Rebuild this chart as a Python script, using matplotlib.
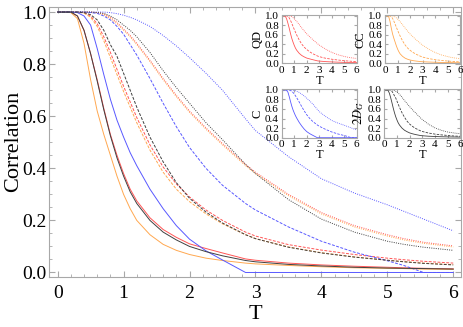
import matplotlib
matplotlib.use("Agg")
import matplotlib.pyplot as plt

plt.rcParams['font.family'] = ['Liberation Serif', 'DejaVu Serif']
plt.rcParams['mathtext.fontset'] = 'stix'

# temperature grid shared by all curves
T = [0, 0.2, 0.3, 0.4, 0.5, 0.6, 0.7, 0.8, 0.9, 1.0, 1.1, 1.2, 1.4, 1.6, 1.8,
     2.0, 2.25, 2.5, 2.85, 3.0, 3.5, 4.0, 4.5, 5.0, 5.25, 5.55, 6.0]

# QD (red)
qd_solid = [1, 1.0, 0.985, 0.93, 0.84, 0.74, 0.63, 0.53, 0.45, 0.38, 0.32, 0.275, 0.21, 0.165, 0.135,
            0.11, 0.092, 0.075, 0.052, 0.047, 0.036, 0.029, 0.024, 0.02, 0.018, 0.016, 0.014]
qd_dash = [1, 1, 1.0, 0.997, 0.985, 0.955, 0.905, 0.845, 0.78, 0.715, 0.655, 0.595, 0.49, 0.405, 0.34,
           0.29, 0.24, 0.2, 0.155, 0.14, 0.107, 0.086, 0.069, 0.055, 0.049, 0.043, 0.036]
qd_dot = [1, 1, 1, 1, 1.0, 0.998, 0.993, 0.98, 0.96, 0.935, 0.91, 0.88, 0.815, 0.745, 0.68,
          0.62, 0.555, 0.495, 0.415, 0.385, 0.3, 0.23, 0.18, 0.145, 0.13, 0.116, 0.102]

# CC (orange)
cc_solid = [1, 0.998, 0.975, 0.88, 0.74, 0.62, 0.53, 0.45, 0.37, 0.3, 0.245, 0.2, 0.145, 0.108, 0.085,
            0.069, 0.055, 0.046, 0.036, 0.033, 0.027, 0.022, 0.018, 0.016, 0.015, 0.013, 0.012]
cc_dash = [1, 1, 1.0, 0.996, 0.98, 0.945, 0.89, 0.825, 0.76, 0.695, 0.635, 0.575, 0.47, 0.385, 0.32,
           0.272, 0.225, 0.187, 0.145, 0.13, 0.098, 0.076, 0.06, 0.047, 0.042, 0.036, 0.03]
cc_dot = [1, 1, 1, 1, 1.0, 0.997, 0.99, 0.975, 0.955, 0.93, 0.905, 0.875, 0.81, 0.74, 0.675,
          0.615, 0.55, 0.49, 0.41, 0.38, 0.295, 0.225, 0.175, 0.14, 0.125, 0.112, 0.098]

# C (blue)
c_solid = [1, 1.0, 0.998, 0.985, 0.95, 0.86, 0.76, 0.665, 0.585, 0.52, 0.46, 0.41, 0.32, 0.245, 0.18,
           0.128, 0.083, 0.048, 0.0, 0.0, 0.0, 0.0, 0.0, 0.0, 0.0, 0.0, 0.0]
c_dash = [1, 1, 1, 1.0, 0.998, 0.995, 0.985, 0.97, 0.945, 0.915, 0.875, 0.835, 0.745, 0.65, 0.56,
          0.48, 0.4, 0.335, 0.265, 0.24, 0.175, 0.12, 0.078, 0.045, 0.027, 0.0, 0.0]
c_dot = [1, 1, 1, 1, 1, 1, 1.0, 0.998, 0.994, 0.988, 0.98, 0.97, 0.945, 0.91, 0.87,
         0.825, 0.765, 0.7, 0.59, 0.545, 0.445, 0.36, 0.305, 0.26, 0.235, 0.205, 0.16]

# 2D_G (black)
dg_solid = [1, 1.0, 0.985, 0.93, 0.84, 0.735, 0.625, 0.525, 0.44, 0.37, 0.31, 0.265, 0.2, 0.155, 0.125,
            0.1, 0.08, 0.064, 0.046, 0.041, 0.031, 0.025, 0.02, 0.017, 0.016, 0.015, 0.013]
dg_dash = [1, 1, 1.0, 0.998, 0.99, 0.97, 0.93, 0.875, 0.83, 0.765, 0.7, 0.635, 0.52, 0.425, 0.345,
           0.285, 0.232, 0.19, 0.145, 0.13, 0.097, 0.075, 0.059, 0.047, 0.041, 0.035, 0.029]
dg_dot = [1, 1, 1, 1, 1, 0.998, 0.995, 0.985, 0.97, 0.95, 0.93, 0.905, 0.845, 0.775, 0.71,
          0.65, 0.575, 0.51, 0.415, 0.38, 0.28, 0.205, 0.155, 0.12, 0.108, 0.097, 0.085]

red, orange, blue, black = '#ff5555', '#ffa850', '#5858ff', '#404040'
frame = '#a8a8a8'
styles = ['-', (0, (3, 1.5)), (0, (1, 1.3))]

groups = [('QD', red, [qd_solid, qd_dash, qd_dot]),
          ('CC', orange, [cc_solid, cc_dash, cc_dot]),
          ('C', blue, [c_solid, c_dash, c_dot]),
          (r'$2D_G$', black, [dg_solid, dg_dash, dg_dot])]


def style_frame(ax, size, major, minor):
    for s in ax.spines.values():
        s.set_color(frame)
        s.set_linewidth(0.8)
    ax.tick_params(which='both', direction='in', top=True, right=True,
                   color=frame, labelsize=size, pad=2)
    ax.tick_params(which='major', length=major)
    ax.tick_params(which='minor', length=minor)


fig = plt.figure(figsize=(4.63, 3.27), dpi=100)
ax = fig.add_axes([0.106, 0.154, 0.89, 0.825])

for name, col, curves in groups:
    for ys, ls in zip(curves, styles):
        ax.plot(T, ys, color=col, ls=ls, lw=0.7)

ax.set_xlim(-0.13, 6.12)
ax.set_ylim(-0.016, 1.02)
ax.set_xticks(range(0, 7))
ax.set_xticks([i * 0.2 for i in range(31)], minor=True)
ax.set_yticks([0, 0.2, 0.4, 0.6, 0.8, 1.0])
ax.set_yticklabels(['0.0', '0.2', '0.4', '0.6', '0.8', '1.0'])
ax.set_yticks([i * 0.05 for i in range(21)], minor=True)
style_frame(ax, 14, 4, 2)
ax.tick_params(axis='x', pad=6)
ax.set_xlabel('T', fontsize=16, labelpad=2)
ax.set_ylabel('Correlation', fontsize=16)
ax.yaxis.set_label_coords(-0.064, 0.5)

# inset panels
boxes = [[0.6084, 0.8064, 0.162, 0.147],
         [0.8315, 0.8064, 0.163, 0.147],
         [0.6084, 0.5789, 0.162, 0.148],
         [0.8300, 0.5789, 0.164, 0.148]]
for (name, col, curves), box in zip(groups, boxes):
    ins = fig.add_axes(box)
    for ys, ls in zip(curves, styles):
        ins.plot(T, ys, color=col, ls=ls, lw=0.6)
    ins.set_xlim(0, 6)
    ins.set_ylim(0, 1.01)
    ins.set_xticks(range(0, 7))
    ins.set_yticks([0, 0.2, 0.4, 0.6, 0.8, 1.0])
    ins.set_yticklabels(['0.0', '0.2', '0.4', '0.6', '0.8', '1.0'])
    style_frame(ins, 8, 2, 1)
    for s in ins.spines.values():
        s.set_linestyle((0, (1, 1)))
    ins.set_xlabel('T', fontsize=9, labelpad=0)
    ins.set_ylabel(name, fontsize=9, labelpad=1)

fig.savefig('out.png', dpi=100)
